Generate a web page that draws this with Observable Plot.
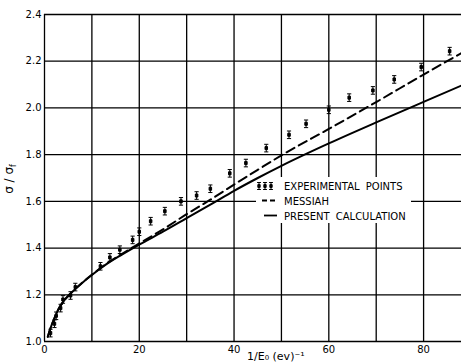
<!DOCTYPE html>
<html><head><meta charset="utf-8">
<script src="https://cdn.jsdelivr.net/npm/d3@7"></script>
<script src="https://cdn.jsdelivr.net/npm/@observablehq/plot@0.6"></script>
<style>body{margin:0;background:#fff}</style>
</head><body><div id="chart"></div>
<script>
// Experimental points (1/E0, sigma/sigma_f)
const expX = [1.27, 2.1, 2.47, 3.4, 3.9, 5.5, 6.5, 11.8, 13.8, 15.9, 18.6, 20.0, 22.4, 25.4, 28.8, 32.1, 35.0, 39.1, 42.5, 46.8, 51.6, 55.2, 60.0, 64.3, 69.3, 73.8, 79.5, 85.5];
const expY = [1.036, 1.076, 1.11, 1.143, 1.18, 1.197, 1.233, 1.322, 1.36, 1.393, 1.435, 1.47, 1.515, 1.558, 1.60, 1.625, 1.654, 1.72, 1.764, 1.828, 1.885, 1.932, 1.992, 2.044, 2.075, 2.122, 2.175, 2.243];
// Present calculation (solid)
const calcX = [0.7, 1, 1.5, 2, 3, 4, 5, 6, 8, 10, 13, 16, 20, 25, 30, 35, 40, 45, 50, 60, 70, 80, 88];
const calcY = [1.02, 1.04, 1.07, 1.095, 1.14, 1.172, 1.195, 1.215, 1.252, 1.285, 1.33, 1.368, 1.415, 1.47, 1.528, 1.586, 1.645, 1.70, 1.752, 1.848, 1.938, 2.026, 2.096];
// Messiah (dashed)
const messiahX = [0.7, 1, 1.5, 2, 3, 4, 5, 6, 8, 10, 13, 16, 20, 25, 30, 35, 40, 45, 50, 60, 70, 80, 88];
const messiahY = [1.02, 1.04, 1.07, 1.095, 1.14, 1.172, 1.195, 1.216, 1.253, 1.286, 1.332, 1.371, 1.42, 1.48, 1.545, 1.607, 1.672, 1.735, 1.797, 1.91, 2.025, 2.143, 2.235];
// Ticks
const xTicks = [0, 20, 40, 60, 80];
const xGrid = [0, 10, 20, 30, 40, 50, 60, 70, 80];
const yTicks = [1.0, 1.2, 1.4, 1.6, 1.8, 2.0, 2.2, 2.4];
const legendLabels = ["EXPERIMENTAL POINTS", "MESSIAH", "PRESENT CALCULATION"];
const xLabel = "1/E₀ (ev)⁻¹";

const errBar = {
  draw(ctx, size) {
    const r = Math.sqrt(size / Math.PI);
    const h = r, w = r * 0.55;
    ctx.moveTo(-w, -h); ctx.lineTo(w, -h);
    ctx.moveTo(0, -h); ctx.lineTo(0, h);
    ctx.moveTo(-w, h); ctx.lineTo(w, h);
    ctx.moveTo(-w * 0.6, -h * 0.4); ctx.lineTo(w * 0.6, -h * 0.4);
    ctx.lineTo(w * 0.6, h * 0.4); ctx.lineTo(-w * 0.6, h * 0.4); ctx.closePath();
  }
};

const svg = Plot.plot({
  width: 461, height: 364,
  marginLeft: 44, marginRight: 0, marginTop: 14, marginBottom: 23,
  style: {fontFamily: "DejaVu Sans", fontSize: "10px", background: "white", color: "black"},
  x: {domain: [0, 88]},
  y: {domain: [1.0, 2.4]},
  marks: [
    Plot.gridX(xGrid, {stroke: "black", strokeOpacity: 1, strokeWidth: 1.3}),
    Plot.gridY(yTicks, {stroke: "black", strokeOpacity: 1, strokeWidth: 1.3}),
    Plot.axisX(xTicks, {tickSize: 0, tickPadding: 4, label: null}),
    Plot.axisY(yTicks, {tickSize: 0, tickPadding: 3, label: null, tickFormat: d3.format(".1f")}),
    Plot.line(calcX, {x: calcX, y: calcY, stroke: "black", strokeWidth: 2, curve: "monotone-x"}),
    Plot.line(messiahX, {x: messiahX, y: messiahY, stroke: "black", strokeWidth: 2, strokeDasharray: "9,5", curve: "monotone-x"}),
    Plot.dot(expX, {x: expX, y: expY, symbol: errBar, r: 3.8, fill: "black", stroke: "black", strokeWidth: 1})
  ]
});

const s = d3.select(svg);
// legend background placed just above the grids
const ygrid = svg.querySelector('[aria-label="y-grid"]');
const bg = document.createElementNS("http://www.w3.org/2000/svg", "rect");
bg.setAttribute("x", 256); bg.setAttribute("y", 177);
bg.setAttribute("width", 155); bg.setAttribute("height", 46);
bg.setAttribute("fill", "white");
ygrid.parentNode.insertBefore(bg, ygrid.nextSibling);

const lg = s.append("g").attr("font-family", "DejaVu Sans").attr("font-size", 10).attr("fill", "black").attr("text-anchor", "start");
const symPath = d3.symbol().type(errBar).size(Math.PI * 3.5 * 3.5)();
[259, 265, 271].forEach(x => lg.append("path").attr("d", symPath).attr("transform", `translate(${x},186)`).attr("fill", "black").attr("stroke", "black").attr("stroke-width", 1));
lg.append("line").attr("x1", 262).attr("x2", 275).attr("y1", 200.5).attr("y2", 200.5).attr("stroke", "black").attr("stroke-width", 1.8).attr("stroke-dasharray", "5,3");
lg.append("line").attr("x1", 264).attr("x2", 277).attr("y1", 215.5).attr("y2", 215.5).attr("stroke", "black").attr("stroke-width", 1.8);
legendLabels.forEach((t, i) => lg.append("text").attr("x", 284).attr("y", 190 + i * 15).attr("text-anchor", "start").attr("word-spacing", 3).text(t));

// axis titles
s.append("text").attr("x", 247).attr("y", 360).attr("text-anchor", "start").attr("font-family", "DejaVu Sans").attr("font-size", 11).attr("fill", "black").text(xLabel);
const yl = s.append("text").attr("transform", "translate(13,179) rotate(-90)").attr("text-anchor", "middle")
  .attr("font-family", "DejaVu Sans").attr("font-size", 12).attr("fill", "black");
yl.append("tspan").text("σ / σ");
yl.append("tspan").attr("font-size", 8).attr("dy", 3).text("f");

document.getElementById("chart").appendChild(svg);
</script>
</body></html>
